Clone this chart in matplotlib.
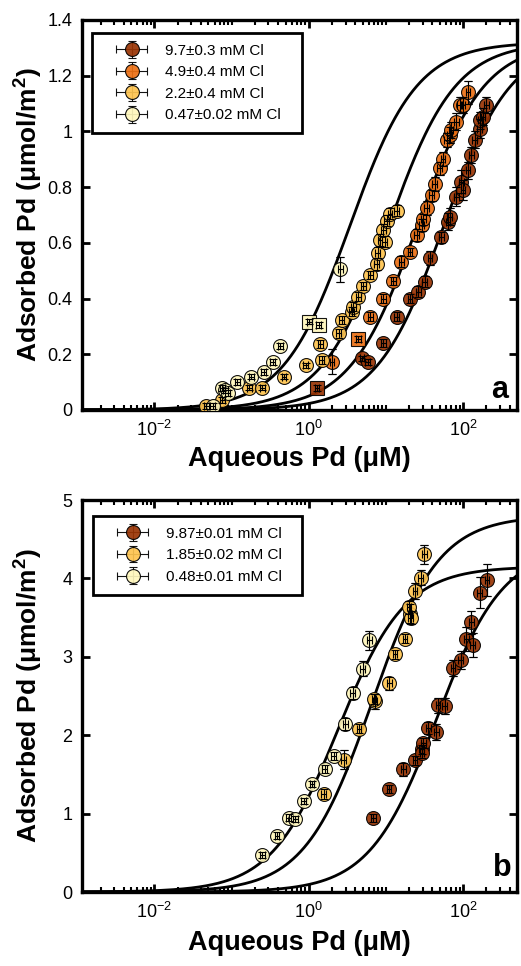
import numpy as np
import matplotlib.pyplot as plt
from matplotlib.ticker import LogLocator, NullFormatter, MultipleLocator
from matplotlib.legend_handler import HandlerErrorbar
from matplotlib.container import ErrorbarContainer

plt.rcParams['font.family'] = ['Liberation Sans', 'DejaVu Sans']
plt.rcParams['mathtext.default'] = 'regular'
plt.rcParams['axes.unicode_minus'] = False

# ---------------- panel a ----------------
a_labels = ['9.7±0.3 mM Cl', '4.9±0.4 mM Cl', '2.2±0.4 mM Cl', '0.47±0.02 mM Cl']
a_colors = ['#993404', '#ec7014', '#fec44f', '#fff7bc']

a97_x = [1.28, 4.9, 5.8, 9.3, 13.8, 20.5, 26.3, 32, 37.4, 52.5, 64, 67, 82, 95, 100, 116, 128, 141, 164, 166, 181, 200]
a97_y = [0.078, 0.185, 0.173, 0.24, 0.335, 0.40, 0.425, 0.46, 0.545, 0.62, 0.676, 0.694, 0.766, 0.82, 0.79, 0.86, 0.915, 0.97, 1.01, 1.04, 1.053, 1.095]
a97_yerr = [0.01, 0.01, 0.01, 0.015, 0.015, 0.015, 0.02, 0.02, 0.025, 0.02, 0.03, 0.03, 0.035, 0.04, 0.035, 0.03, 0.03, 0.03, 0.035, 0.03, 0.03, 0.03]
a97_sq = [0]

a49_x = [2.0, 4.4, 6.3, 9.3, 12.5, 15.8, 20.5, 25, 29, 30.5, 33.6, 39, 43, 50, 55, 61, 67, 70, 82, 91, 100, 116]
a49_y = [0.173, 0.254, 0.335, 0.40, 0.463, 0.532, 0.568, 0.628, 0.664, 0.684, 0.724, 0.77, 0.81, 0.867, 0.90, 0.97, 0.987, 1.005, 1.035, 1.095, 1.095, 1.14]
a49_yerr = [0.045, 0.01, 0.015, 0.015, 0.015, 0.02, 0.015, 0.02, 0.02, 0.02, 0.025, 0.02, 0.025, 0.025, 0.025, 0.025, 0.03, 0.03, 0.03, 0.03, 0.03, 0.04]
a49_sq = [1]

a22_x = [0.047, 0.076, 0.17, 0.25, 0.48, 0.91, 1.41, 1.48, 2.44, 2.69, 3.6, 3.8, 4.4, 5.1, 6.3, 7.6, 7.85, 8.4, 9.6, 9.3, 10.2, 11.3, 13.8]
a22_y = [0.015, 0.036, 0.08, 0.08, 0.12, 0.16, 0.237, 0.18, 0.275, 0.323, 0.353, 0.371, 0.407, 0.445, 0.485, 0.524, 0.565, 0.61, 0.604, 0.646, 0.68, 0.705, 0.715]
a22_yerr = [0.01, 0.01, 0.01, 0.01, 0.01, 0.01, 0.015, 0.015, 0.015, 0.015, 0.015, 0.015, 0.015, 0.015, 0.015, 0.02, 0.02, 0.02, 0.02, 0.02, 0.02, 0.02, 0.02]
a22_sq = []

a047_x = [0.057, 0.076, 0.083, 0.089, 0.119, 0.18, 0.26, 0.34, 0.43, 1.02, 1.35, 2.57]
a047_y = [0.015, 0.078, 0.07, 0.06, 0.10, 0.12, 0.137, 0.173, 0.23, 0.317, 0.305, 0.505]
a047_yerr = [0.01, 0.01, 0.01, 0.01, 0.01, 0.01, 0.01, 0.01, 0.01, 0.01, 0.01, 0.045]
a047_sq = [9, 10]

# Langmuir fit parameters (umol/m2, uM)
a_qmax = [1.32, 1.32, 1.32, 1.32]
a_c50 = [56, 25.4, 10.8, 3.4]

# ---------------- panel b ----------------
b_labels = ['9.87±0.01 mM Cl', '1.85±0.02 mM Cl', '0.48±0.01 mM Cl']
b_colors = ['#993404', '#fec44f', '#fff7bc']

b987_x = [6.9, 11, 16.8, 23.8, 29, 30.5, 29.5, 35.4, 45, 47.6, 57.6, 74, 93, 110, 134, 128, 164, 205]
b987_y = [0.945, 1.31, 1.566, 1.68, 1.82, 1.90, 1.775, 2.09, 2.04, 2.38, 2.37, 2.86, 2.96, 3.23, 3.15, 3.44, 3.82, 3.98]
b987_yerr = [0.05, 0.05, 0.08, 0.06, 0.06, 0.06, 0.06, 0.08, 0.1, 0.1, 0.1, 0.1, 0.12, 0.15, 0.15, 0.15, 0.2, 0.2]

b185_x = [1.56, 2.83, 4.5, 7.25, 7.0, 11.1, 13.2, 17.7, 20.5, 21.0, 20.0, 23.9, 28.3, 31.5]
b185_y = [1.25, 1.69, 2.085, 2.43, 2.46, 2.66, 3.03, 3.23, 3.55, 3.50, 3.63, 3.84, 4.01, 4.31]
b185_yerr = [0.06, 0.12, 0.06, 0.1, 0.06, 0.08, 0.06, 0.06, 0.12, 0.08, 0.08, 0.1, 0.1, 0.12]

b048_x = [0.25, 0.39, 0.55, 0.67, 0.86, 1.1, 1.6, 2.1, 2.97, 3.7, 5.0, 6.1]
b048_y = [0.468, 0.72, 0.95, 0.93, 1.165, 1.38, 1.57, 1.74, 2.14, 2.54, 2.85, 3.21]
b048_yerr = [0.04, 0.04, 0.04, 0.04, 0.04, 0.04, 0.05, 0.05, 0.08, 0.08, 0.1, 0.12]

b_qmax = [4.4, 4.8, 4.15]
b_c50 = [45, 6.5, 2.4]

x_rel_err = 0.07

fig = plt.figure(figsize=(5.21, 9.66), dpi=100)
ax_a = fig.add_axes([0.1574, 0.5756, 0.8349, 0.4037])
ax_b = fig.add_axes([0.1574, 0.0766, 0.8349, 0.4058])

c_line = np.logspace(-3.2, 3, 400)


def draw_series(ax, x, y, yerr, color, label, squares=()):
    x = np.asarray(x, float)
    y = np.asarray(y, float)
    yerr = np.asarray(yerr, float)
    xerr = x * x_rel_err
    circ = np.array([i not in squares for i in range(len(x))])
    h = ax.errorbar(x[circ], y[circ], xerr=xerr[circ], yerr=yerr[circ], fmt='o', ms=10,
                    mfc=color, mec='black', mew=0.8, ecolor='black', elinewidth=0.8,
                    capsize=3, capthick=0.8, alpha=0.92, zorder=3, label=label)
    if len(squares):
        sq = ~circ
        ax.plot(x[sq], y[sq], 's', ms=9.5, mfc=color, mec='black', mew=0.8, alpha=0.92, zorder=3)
    # error bars drawn over the symbols
    ax.errorbar(x, y, xerr=xerr, yerr=yerr, fmt='none', ecolor='black', elinewidth=0.8,
                capsize=3, capthick=0.8, zorder=4)
    return h


def style_axes(ax, ymax, ystep):
    ax.set_xscale('log')
    ax.set_xlim(1.15e-3, 500)
    ax.set_ylim(0, ymax)
    ax.xaxis.set_major_locator(LogLocator(base=100, numticks=10))
    ax.xaxis.set_minor_locator(LogLocator(base=10, subs=np.arange(1, 10), numticks=20))
    ax.xaxis.set_minor_formatter(NullFormatter())
    ax.yaxis.set_major_locator(MultipleLocator(ystep))
    ax.tick_params(which='both', direction='in', top=True, right=True)
    ax.tick_params(which='major', length=6, width=2, labelsize=13, pad=7)
    ax.tick_params(which='minor', length=3.5, width=1.5)
    for s in ax.spines.values():
        s.set_linewidth(2.4)
    ax.set_xlabel('Aqueous Pd (μM)', fontsize=19.5, fontweight='bold')
    ax.set_ylabel('Adsorbed Pd (μmol/m$^2$)', fontsize=19, fontweight='bold')
    ax.yaxis.set_label_coords(-0.085, 0.5)


# panel a
for q, k in zip(a_qmax, a_c50):
    ax_a.plot(c_line, q * c_line / (k + c_line), color='black', lw=2, zorder=2)
ha = []
for x, y, e, col, lab, sq in zip([a97_x, a49_x, a22_x, a047_x], [a97_y, a49_y, a22_y, a047_y],
                                  [a97_yerr, a49_yerr, a22_yerr, a047_yerr], a_colors, a_labels,
                                  [a97_sq, a49_sq, a22_sq, a047_sq]):
    ha.append(draw_series(ax_a, x, y, e, col, lab, sq))
style_axes(ax_a, 1.4, 0.2)
ax_a.set_yticks([0, 0.2, 0.4, 0.6, 0.8, 1, 1.2, 1.4])
ax_a.set_yticklabels(['0', '0.2', '0.4', '0.6', '0.8', '1', '1.2', '1.4'])
ax_a.xaxis.set_label_coords(0.5, -0.092)
ax_a.text(0.961, 0.051, 'a', transform=ax_a.transAxes, fontsize=22, fontweight='bold',
          ha='center', va='center')

# panel b
for q, k in zip(b_qmax, b_c50):
    ax_b.plot(c_line, q * c_line / (k + c_line), color='black', lw=2, zorder=2)
hb = []
for x, y, e, col, lab in zip([b987_x, b185_x, b048_x], [b987_y, b185_y, b048_y],
                             [b987_yerr, b185_yerr, b048_yerr], b_colors, b_labels):
    hb.append(draw_series(ax_b, x, y, e, col, lab))
style_axes(ax_b, 5, 1)
ax_b.xaxis.set_label_coords(0.5, -0.098)
ax_b.text(0.966, 0.061, 'b', transform=ax_b.transAxes, fontsize=22, fontweight='bold',
          ha='center', va='center')

hmap = {ErrorbarContainer: HandlerErrorbar(xerr_size=1.0, yerr_size=0.55)}
leg_kw = dict(loc='upper left', mode='expand', borderaxespad=0, fontsize=11,
              fancybox=False, edgecolor='black', framealpha=1, handlelength=3.8,
              handletextpad=0.3, borderpad=0.7, labelspacing=0.5, handler_map=hmap)
la = ax_a.legend(handles=ha, bbox_to_anchor=(0.023, 0.967, 0.483, 0), **leg_kw)
la.get_frame().set_linewidth(2)
lb = ax_b.legend(handles=hb, bbox_to_anchor=(0.025, 0.959, 0.48, 0), **leg_kw)
lb.get_frame().set_linewidth(2)

fig.savefig('out.png', dpi=100)
